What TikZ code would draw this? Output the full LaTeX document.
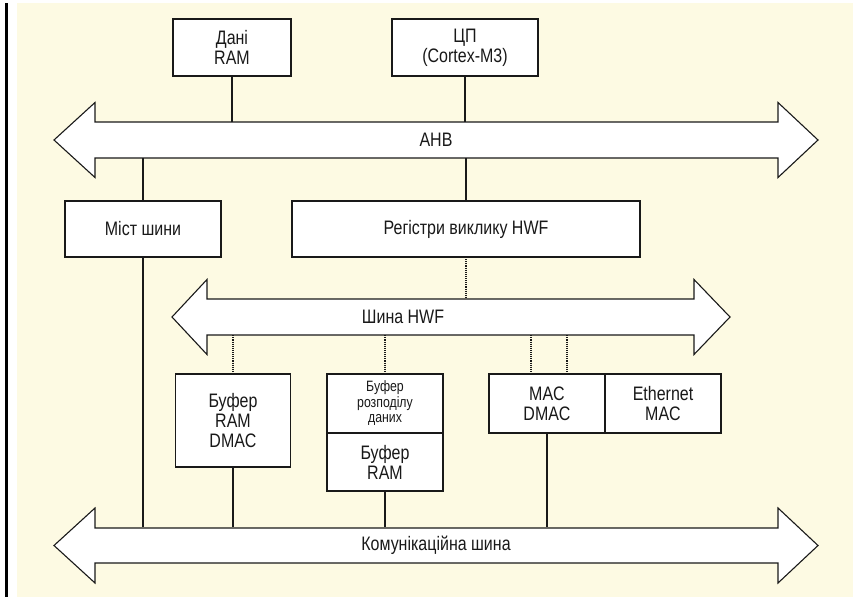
\documentclass[tikz,border=0pt]{standalone}
\usepackage{fontspec}
\setmainfont[FakeStretch=0.82]{Liberation Sans}
\usetikzlibrary{positioning}
\definecolor{paper}{RGB}{253,250,227}
\definecolor{ink}{RGB}{25,25,25}

\begin{document}
\begin{tikzpicture}[x=1pt,y=-1pt,
        blockbox/.style={draw=ink,fill=white,line width=1.1pt,align=center,inner sep=0pt,
                        outer sep=0pt,text=ink,font=\fontsize{19.5}{20}\selectfont},
        smallbox/.style={blockbox,font=\fontsize{15}{15.5}\selectfont},
        busshape/.style={draw=ink,fill=white,line width=1.1pt,line join=miter},
        buslabel/.style={inner sep=0pt,minimum height=36pt,text=ink,
                        font=\fontsize{19.5}{20}\selectfont},
        link/.style={draw=ink,line width=1.1pt},
        hwflink/.style={draw=ink,line width=1.1pt,densely dotted}]
        \useasboundingbox (0,0) rectangle (853,597);
        \fill[paper] (17,3) rectangle (853,597);
        \fill[black] (5,3) rectangle (8,597);

        \draw[busshape] (54,140) -- (95,102.5) -- (95,122) -- (778,122) -- (778,102.5) -- (818,140)
                -- (778,177.5) -- (778,158) -- (95,158) -- (95,177.5) -- cycle;
        \draw[busshape] (172,317) -- (207,279.5) -- (207,299) -- (694,299) -- (694,279.5) -- (730,317)
                -- (694,354.5) -- (694,335) -- (207,335) -- (207,354.5) -- cycle;
        \draw[busshape] (54,545.5) -- (95,508) -- (95,528) -- (778,528) -- (778,508) -- (818,545.5)
                -- (778,583) -- (778,563) -- (95,563) -- (95,583) -- cycle;

        \node[buslabel] (ahb) at (436,140) {АНВ};
        \node[buslabel] (hwfbus) at (403,317) {Шина HWF};
        \node[buslabel] (commbus) at (436,545.5) {Комунікаційна шина};

        \node[blockbox,minimum width=118pt,minimum height=57pt] (dataram) at (232,47.5) {Дані\\RAM};
        \node[blockbox,minimum width=146pt,minimum height=57pt] (cpu) at (465,47.5) {ЦП\\(Cortex-M3)};
        \node[blockbox,minimum width=156pt,minimum height=56pt] (bridge) at (143,229) {Міст шини};
        \node[blockbox,minimum width=348pt,minimum height=56pt] (hwfreg) at (466,229) {Регістри виклику HWF};
        \node[blockbox,minimum width=115pt,minimum height=93pt] (bufdmac) at (233,420.5) {Буфер\\RAM\\DMAC};
        \node[smallbox,minimum width=116pt,minimum height=59pt] (splitbuf) at (385,403.5) {Буфер\\розподілу\\даних};
        \node[blockbox,minimum width=116pt,minimum height=58pt,below=0pt of splitbuf] (bufram) {Буфер\\RAM};
        \node[blockbox,minimum width=116pt,minimum height=59pt] (macdmac) at (547,403.5) {MAC\\DMAC};
        \node[blockbox,minimum width=116pt,minimum height=59pt,right=0pt of macdmac] (ethmac) {Ethernet\\MAC};

        \coordinate (macportA) at ([xshift=-16pt]macdmac.north);
        \coordinate (macportB) at ([xshift=20pt]macdmac.north);

        \draw[link] (dataram.south) -- (dataram.south |- ahb.north);
        \draw[link] (cpu.south) -- (cpu.south |- ahb.north);
        \draw[link] (bridge.north |- ahb.south) -- (bridge.north);
        \draw[link] (hwfreg.north |- ahb.south) -- (hwfreg.north);

        \draw[hwflink] (hwfreg.south) -- (hwfreg.south |- hwfbus.north);
        \draw[hwflink] (bufdmac.north |- hwfbus.south) -- (bufdmac.north);
        \draw[hwflink] (splitbuf.north |- hwfbus.south) -- (splitbuf.north);
        \draw[hwflink] (macportA |- hwfbus.south) -- (macportA);
        \draw[hwflink] (macportB |- hwfbus.south) -- (macportB);

        \draw[link] (bridge.south) -- (bridge.south |- commbus.north);
        \draw[link] (bufdmac.south) -- (bufdmac.south |- commbus.north);
        \draw[link] (bufram.south) -- (bufram.south |- commbus.north);
        \draw[link] (macdmac.south) -- (macdmac.south |- commbus.north);
\end{tikzpicture}
\end{document}
